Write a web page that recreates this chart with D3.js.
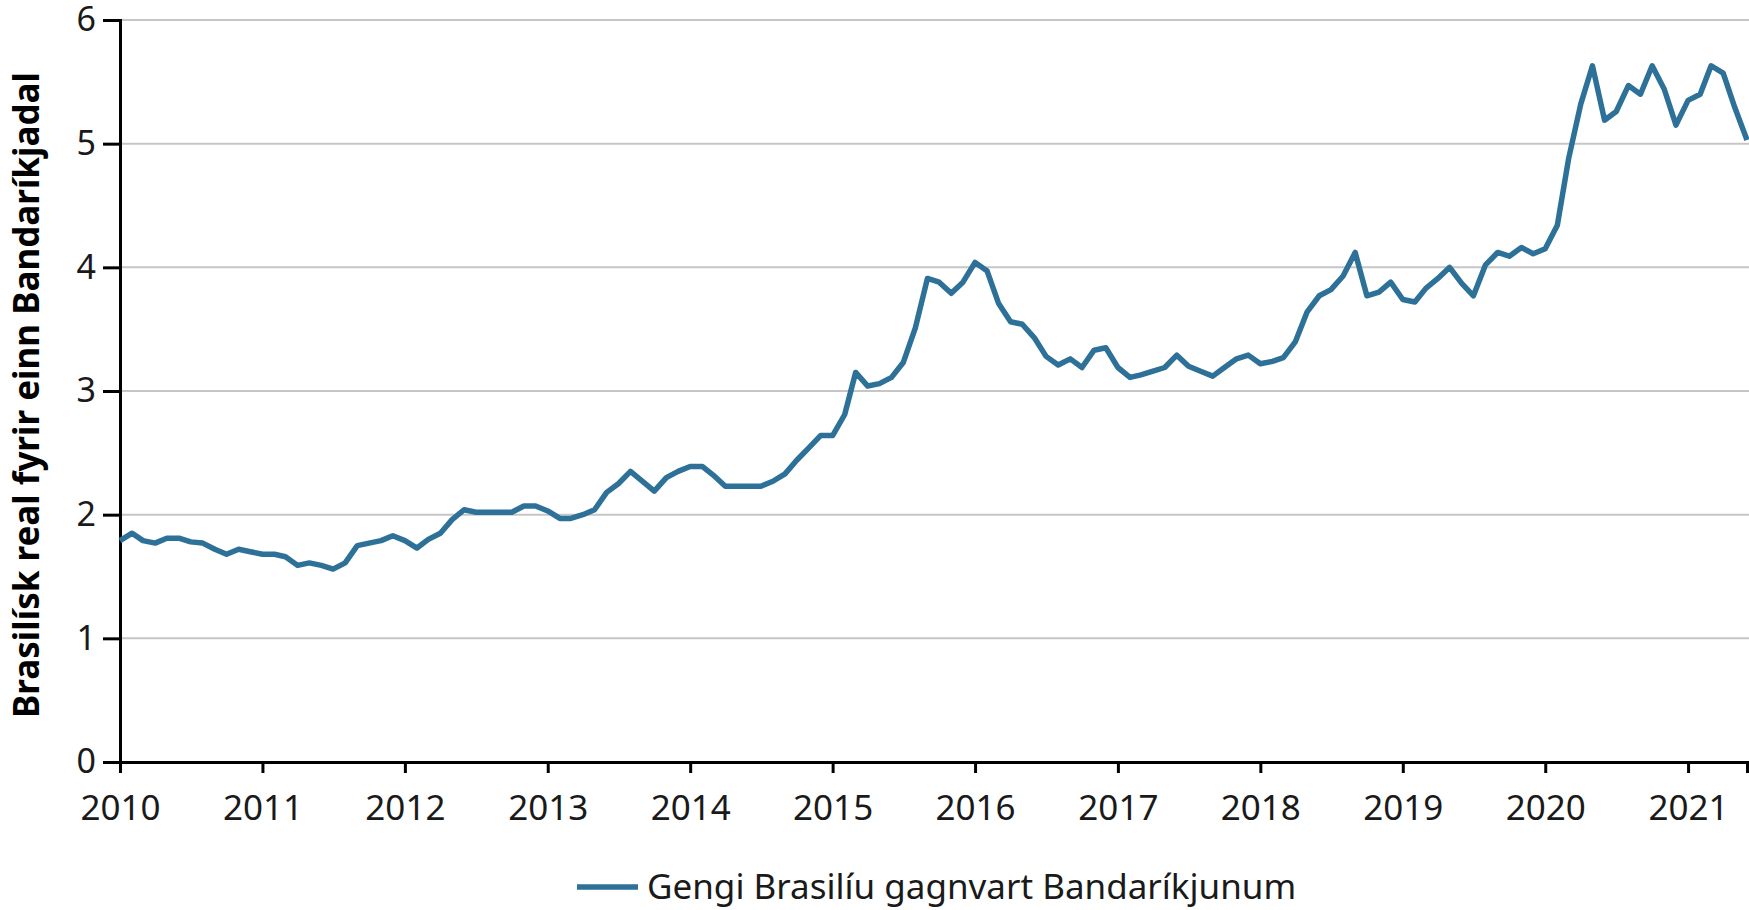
<!DOCTYPE html>
<html>
<head>
<meta charset="utf-8">
<script src="https://cdn.jsdelivr.net/npm/d3@7"></script>
<style>
  body { margin: 0; background: #fff; }
  text { font-family: "Noto Sans", "Open Sans", sans-serif; }
</style>
</head>
<body>
<div class="chart-holder"></div>
<script>
// Monthly exchange rate, BRL per USD
const rate2010 = [1.79, 1.85, 1.79, 1.77, 1.81, 1.81, 1.78, 1.77, 1.72, 1.68, 1.72, 1.70];
const rate2011 = [1.68, 1.68, 1.66, 1.59, 1.61, 1.59, 1.56, 1.61, 1.75, 1.77, 1.79, 1.83];
const rate2012 = [1.79, 1.73, 1.80, 1.85, 1.96, 2.04, 2.02, 2.02, 2.02, 2.02, 2.07, 2.07];
const rate2013 = [2.03, 1.97, 1.97, 2.00, 2.04, 2.18, 2.25, 2.35, 2.27, 2.19, 2.30, 2.35];
const rate2014 = [2.39, 2.39, 2.32, 2.23, 2.23, 2.23, 2.23, 2.27, 2.33, 2.44, 2.54, 2.64];
const rate2015 = [2.64, 2.81, 3.15, 3.04, 3.06, 3.11, 3.23, 3.51, 3.91, 3.88, 3.79, 3.88];
const rate2016 = [4.04, 3.97, 3.71, 3.56, 3.54, 3.43, 3.28, 3.21, 3.26, 3.19, 3.33, 3.35];
const rate2017 = [3.19, 3.11, 3.13, 3.16, 3.19, 3.29, 3.20, 3.16, 3.12, 3.19, 3.26, 3.29];
const rate2018 = [3.22, 3.24, 3.27, 3.40, 3.64, 3.77, 3.82, 3.93, 4.12, 3.77, 3.80, 3.88];
const rate2019 = [3.74, 3.72, 3.83, 3.91, 4.00, 3.87, 3.77, 4.02, 4.12, 4.09, 4.16, 4.11];
const rate2020 = [4.15, 4.34, 4.88, 5.32, 5.63, 5.19, 5.26, 5.47, 5.40, 5.63, 5.44, 5.15];
const rate2021 = [5.35, 5.40, 5.63, 5.57, 5.29, 5.03];

const years = [2010, 2011, 2012, 2013, 2014, 2015, 2016, 2017, 2018, 2019, 2020, 2021];
const yTicks = [0, 1, 2, 3, 4, 5, 6];
const yTitle = 'Brasilísk real fyrir einn Bandaríkjadal';
const seriesName = 'Gengi Brasilíu gagnvart Bandaríkjunum';

const allRates = [rate2010, rate2011, rate2012, rate2013, rate2014, rate2015,
  rate2016, rate2017, rate2018, rate2019, rate2020, rate2021];

// one point per month, starting January of each year
const data = [];
allRates.forEach((vals, i) => {
  vals.forEach((v, m) => data.push({ date: new Date(years[i], m, 1), value: v }));
});

const width = 1749;
const height = 910;
const margin = { top: 20, right: 2, bottom: 148, left: 120 };

const svg = d3.select('.chart-holder').append('svg')
  .attr('width', width)
  .attr('height', height);

const xScale = d3.scaleTime()
  .domain([new Date(2010, 0, 1), new Date(2021, 5, 1)])
  .range([margin.left, width - margin.right]);

const yScale = d3.scaleLinear()
  .domain([0, 6])
  .range([height - margin.bottom, margin.top]);

// gridlines
svg.append('g')
  .selectAll('line')
  .data(yTicks.filter(d => d > 0))
  .join('line')
  .attr('x1', margin.left)
  .attr('x2', width)
  .attr('y1', d => yScale(d))
  .attr('y2', d => yScale(d))
  .attr('stroke', '#c6c6c6')
  .attr('stroke-width', 2);

// y axis
const yAxis = svg.append('g')
  .attr('transform', 'translate(' + margin.left + ',0)')
  .call(d3.axisLeft(yScale).tickValues(yTicks).tickSize(17).tickPadding(7).tickFormat(d3.format('d')));
yAxis.select('.domain').attr('stroke', '#000').attr('stroke-width', 3);
yAxis.selectAll('.tick line').attr('stroke', '#000').attr('stroke-width', 3);
yAxis.selectAll('.tick text')
  .attr('fill', '#1a1a1a')
  .style('font-size', '34px')
  .style('font-family', '"Noto Sans", sans-serif');

// x axis
const xAxis = svg.append('g')
  .attr('transform', 'translate(0,' + yScale(0) + ')')
  .call(d3.axisBottom(xScale)
    .tickValues(years.map(y => new Date(y, 0, 1)))
    .tickSize(11)
    .tickPadding(22)
    .tickFormat(d3.timeFormat('%Y')));
xAxis.select('.domain').attr('stroke', '#000').attr('stroke-width', 3);
xAxis.selectAll('.tick line').attr('stroke', '#000').attr('stroke-width', 3);
xAxis.selectAll('.tick text')
  .attr('fill', '#1a1a1a')
  .style('font-size', '35px')
  .style('font-family', '"Noto Sans", sans-serif');

// the line
const line = d3.line()
  .x(d => xScale(d.date))
  .y(d => yScale(d.value));

svg.append('path')
  .datum(data)
  .attr('fill', 'none')
  .attr('stroke', '#2e7198')
  .attr('stroke-width', 5.5)
  .attr('stroke-linejoin', 'round')
  .attr('d', line);

// y axis title
svg.append('text')
  .attr('transform', 'translate(39,395) rotate(-90)')
  .attr('text-anchor', 'middle')
  .style('font-size', '35px')
  .style('font-weight', 'bold')
  .attr('fill', '#000')
  .text(yTitle);

// legend
const legend = svg.append('g')
  .attr('transform', 'translate(577,887)');

legend.append('line')
  .attr('x1', 0)
  .attr('x2', 61)
  .attr('stroke', '#2e7198')
  .attr('stroke-width', 5.5);

legend.append('text')
  .attr('x', 70)
  .attr('dy', '0.35em')
  .style('font-size', '35px')
  .attr('fill', '#1a1a1a')
  .text(seriesName);
</script>
</body>
</html>
